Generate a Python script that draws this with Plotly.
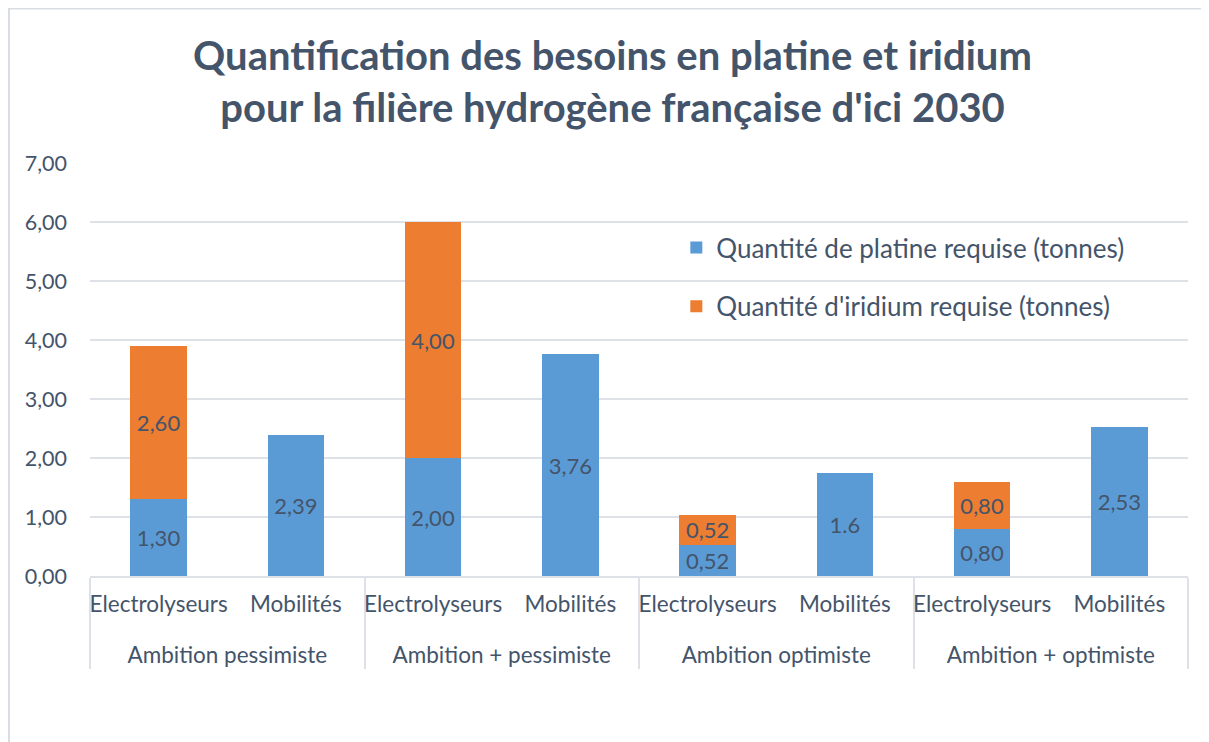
import plotly.graph_objects as go

# ---- data ----
groups = ["Ambition pessimiste", "Ambition + pessimiste", "Ambition optimiste", "Ambition + optimiste"]
subcats = ["Electrolyseurs", "Mobilités"]
platine = [1.30, 2.39, 2.00, 3.76, 0.52, 1.75, 0.80, 2.53]
platine_labels = ["1,30", "2,39", "2,00", "3,76", "0,52", "1.6", "0,80", "2,53"]
iridium = [2.60, None, 4.00, None, 0.52, None, 0.80, None]
iridium_labels = ["2,60", "", "4,00", "", "0,52", "", "0,80", ""]
yticks = [0, 1, 2, 3, 4, 5, 6, 7]
title_lines = ["Quantification des besoins en platine et iridium",
               "pour la filière hydrogène française d'ici 2030"]

# outer labels get a leading blank line to push them lower (Excel-like spacing)
xg = ["<br>" + g for g in groups for _ in subcats]
xs = [s for _ in groups for s in subcats]

TXT = "#44546A"
GRID = "#DEE2E8"
FRAME = "#D9DDE3"
FONT = "Lato"

fig = go.Figure()
fig.add_trace(go.Bar(
    x=[xg, xs], y=platine, name="Quantité de platine requise (tonnes)",
    marker=dict(color="#5B9BD5", line=dict(width=0)),
    text=platine_labels, textposition="inside", insidetextanchor="middle",
    textangle=0, textfont=dict(size=22, color=TXT, family=FONT),
    legendgroup="a", hoverinfo="skip",
))
fig.add_trace(go.Bar(
    x=[xg, xs], y=iridium, name="Quantité d'iridium requise (tonnes)",
    marker=dict(color="#ED7D31", line=dict(width=0)),
    text=iridium_labels, textposition="inside", insidetextanchor="middle",
    textangle=0, textfont=dict(size=22, color=TXT, family=FONT),
    legendgroup="b", hoverinfo="skip",
))

fig.update_layout(
    width=1209, height=742,
    margin=dict(l=82, r=29, t=155, b=174),
    paper_bgcolor="white", plot_bgcolor="white",
    barmode="stack", bargap=0.59,
    separators=", ",
    font=dict(family=FONT, color=TXT, size=21),
    uniformtext=dict(minsize=22, mode="show"),
    title=dict(
        text="<br>".join(title_lines),
        x=0.5, xanchor="center", y=0.916, yanchor="middle",
        font=dict(family=FONT, size=40, color=TXT, weight="bold"),
    ),
    showlegend=True,
    legend=dict(
        x=0.534, y=0.852, xanchor="left", yanchor="top",
        bgcolor="rgba(0,0,0,0)", font=dict(size=26, color=TXT),
        tracegroupgap=22, traceorder="grouped",
    ),
    xaxis=dict(
        type="multicategory", showgrid=False, automargin=False,
        showline=True, linecolor=GRID, linewidth=2,
        showdividers=True, dividercolor=GRID, dividerwidth=2,
        tickfont=dict(size=22.5, color=TXT), ticks="", ticklabelstandoff=7,
        tickangle=0,
    ),
    yaxis=dict(
        range=[0, 7], tickvals=yticks, tickformat=".2f", automargin=False,
        showgrid=True, gridcolor=GRID, gridwidth=2,
        zeroline=False, showline=False, ticks="",
        tickfont=dict(size=21.5, color=TXT), ticklabelstandoff=22,
    ),
    shapes=[
        dict(type="line", xref="paper", yref="paper", x0=-0.075, x1=1.1, y0=1.374, y1=1.374,
             line=dict(color=FRAME, width=2)),
        dict(type="line", xref="paper", yref="paper", x0=-0.0738, x1=-0.0738, y0=1.374, y1=-0.45,
             line=dict(color=FRAME, width=2)),
    ],
)

fig.write_html("out.html")
